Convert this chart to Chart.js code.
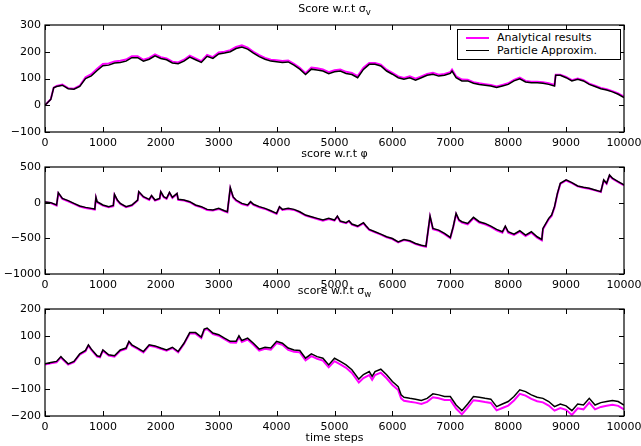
<!DOCTYPE html>
<html>
<head>
<meta charset="utf-8">
<script src="https://cdn.jsdelivr.net/npm/chart.js@4.4.0/dist/chart.umd.min.js"></script>
<style>
  body { margin: 0; background: #fff; }
  #wrap { position: relative; width: 641px; height: 446px; overflow: hidden; font-family: "DejaVu Sans", sans-serif; }
  #wrap canvas { position: absolute; left: 0; top: 0; }
  .ttl { position: absolute; left: 214px; width: 241px; text-align: center; font-size: 11px; line-height: 12px; color: #000; white-space: nowrap; }
  .ttl sub { font-size: 8.5px; }
  #legend { position: absolute; left: 457px; top: 29px; width: 164px; height: 31px; box-sizing: border-box; border: 1px solid #000; background: #fff; }
  .lg-line { position: absolute; left: 8px; width: 23px; height: 0; }
  .lg-text { position: absolute; left: 39px; font-size: 11px; line-height: 13px; white-space: nowrap; color: #000; }
</style>
</head>
<body>
<div id="wrap">
  <canvas id="c1" width="641" height="446"></canvas>
  <canvas id="c2" width="641" height="446"></canvas>
  <canvas id="c3" width="641" height="446"></canvas>
  <div class="ttl" style="top:3px">Score w.r.t &sigma;<sub>v</sub></div>
  <div class="ttl" style="top:148px">score w.r.t &phi;</div>
  <div class="ttl" style="top:285px">score w.r.t &sigma;<sub>w</sub></div>
  <div class="ttl" style="top:432px">time steps</div>
  <div id="legend">
    <div class="lg-line" style="top:7px;border-top:2px solid #ff00ff"></div>
    <div class="lg-text" style="top:1px">Analytical results</div>
    <div class="lg-line" style="top:20px;border-top:1.2px solid #000"></div>
    <div class="lg-text" style="top:14px">Particle Approxim.</div>
  </div>
</div>
<script>
(function () {
    'use strict';

    // ---- score w.r.t sigma_v ----
    var stepsV = [0,100,150,200,300,400,500,600,700,800,900,1000,1100,1200,1300,1400,1500,1600,1700,1800,1900,2000,2100,2200,2300,2400,2500,2600,2700,2800,2900,3000,3100,3200,3300,3400,3500,3600,3700,3800,3900,4000,4100,4200,4300,4400,4500,4600,4700,4800,4900,5000,5100,5200,5300,5400,5500,5600,5700,5800,5900,6000,6100,6200,6300,6400,6500,6600,6700,6800,6900,7000,7030,7100,7200,7300,7400,7500,7600,7700,7800,7900,8000,8100,8200,8300,8400,8500,8600,8700,8800,8820,8900,9000,9100,9200,9300,9400,9500,9600,9700,9800,9900,10000];
    var particleV = [0,22,65,70,75,62,60,70,100,110,130,148,150,158,160,165,178,178,165,172,185,175,170,158,155,165,180,170,160,183,175,192,195,200,212,218,210,195,182,172,165,163,160,162,150,135,115,135,132,128,118,125,128,119,115,103,134,153,153,147,128,116,103,97,103,94,103,112,116,109,112,119,128,103,91,91,82,78,75,72,66,72,78,91,99,87,84,84,82,78,72,112,112,103,91,97,91,78,70,62,57,50,41,29];
    var analyticV = [0,23,66,72,77,64,62,73,105,116,136,154,156,164,166,171,183,183,170,177,190,180,175,163,160,170,185,175,165,188,180,197,200,206,218,224,215,200,187,177,170,168,165,167,155,140,120,141,138,134,124,131,134,125,121,109,140,158,158,152,133,121,108,102,108,99,108,117,121,114,117,124,133,108,96,95,86,82,79,76,70,76,82,95,103,91,88,88,86,82,76,114,114,106,94,100,94,81,73,65,60,53,44,32];

    // ---- score w.r.t phi ----
    var stepsP = [0,100,200,230,300,400,500,600,700,800,860,880,900,1000,1100,1180,1200,1250,1300,1400,1500,1600,1620,1700,1800,1840,1900,1980,2000,2050,2100,2150,2200,2280,2300,2400,2500,2600,2700,2800,2900,3000,3100,3150,3200,3250,3300,3400,3500,3550,3600,3700,3800,3900,4000,4050,4100,4200,4300,4400,4500,4600,4700,4800,4900,5000,5050,5100,5200,5250,5300,5400,5500,5550,5600,5700,5800,5900,6000,6100,6200,6300,6400,6500,6580,6650,6700,6800,6900,7000,7050,7100,7150,7200,7300,7400,7500,7600,7700,7800,7900,7950,8000,8100,8200,8300,8400,8500,8580,8600,8700,8750,8800,8850,8900,9000,9100,9200,9300,9400,9500,9600,9650,9700,9750,9800,9900,10000];
    var particleP = [10,0,-33,140,60,28,-10,-47,-66,-80,-90,75,14,-33,-56,-40,117,37,-10,-56,-33,37,155,84,47,100,37,60,155,84,61,145,75,131,47,37,14,-33,-56,-94,-103,-80,-113,-127,211,80,37,-10,-33,14,-23,-56,-80,-113,-150,-56,-94,-80,-94,-127,-174,-197,-220,-244,-220,-244,-188,-258,-281,-253,-300,-328,-281,-330,-375,-408,-441,-478,-502,-549,-516,-535,-572,-596,-610,-188,-361,-385,-431,-488,-338,-150,-240,-267,-291,-206,-267,-291,-328,-375,-408,-328,-408,-441,-394,-455,-408,-478,-516,-361,-220,-174,-56,131,272,319,281,234,216,202,178,155,319,272,389,342,295,249];
    var analyticP = [5,-6,-40,130,52,20,-18,-55,-74,-88,-98,66,6,-41,-64,-48,108,29,-18,-64,-41,29,146,76,39,92,29,52,146,76,53,136,67,122,39,29,6,-41,-64,-102,-111,-88,-121,-135,200,72,29,-18,-41,6,-31,-64,-88,-121,-158,-64,-102,-88,-102,-135,-182,-205,-228,-252,-228,-252,-196,-266,-289,-261,-308,-336,-289,-338,-383,-416,-449,-486,-510,-557,-524,-543,-580,-604,-618,-198,-371,-395,-441,-498,-348,-162,-252,-279,-303,-218,-279,-303,-340,-387,-420,-340,-420,-453,-406,-467,-420,-490,-528,-373,-232,-186,-66,120,262,311,274,228,210,196,172,149,310,265,380,335,289,243];

    // ---- score w.r.t sigma_w ----
    var stepsW = [0,100,200,275,300,400,500,600,700,750,800,900,950,1000,1100,1200,1300,1400,1450,1500,1600,1700,1800,1900,2000,2100,2200,2300,2400,2500,2600,2700,2750,2800,2900,3000,3100,3200,3300,3350,3400,3500,3600,3700,3800,3900,4000,4100,4200,4300,4400,4500,4600,4700,4800,4900,5000,5100,5200,5300,5420,5500,5600,5650,5700,5800,5900,6000,6100,6150,6200,6300,6400,6500,6600,6700,6800,6900,7000,7100,7200,7300,7400,7500,7600,7700,7800,7900,8000,8100,8200,8300,8400,8500,8600,8700,8800,8900,9000,9100,9200,9300,9400,9500,9600,9700,9800,9900,10000];
    var particleW = [-5,0,4,22,16,-5,4,32,45,66,50,25,22,47,29,25,47,54,79,66,54,41,66,62,54,47,57,41,72,112,112,95,125,129,110,104,91,79,79,100,82,91,72,50,57,54,79,72,54,47,45,16,32,22,16,-9,16,4,-9,-27,-62,-45,-34,-52,-34,-25,-46,-71,-90,-121,-130,-134,-137,-142,-134,-117,-121,-127,-127,-159,-180,-155,-127,-130,-134,-137,-165,-155,-146,-127,-102,-109,-121,-130,-134,-146,-165,-155,-162,-180,-155,-159,-134,-159,-150,-146,-142,-146,-159];
    var analyticW = [-8,-3,1,19,13,-8,1,29,42,63,47,22,19,44,26,22,44,51,76,63,51,38,63,59,51,44,54,38,69,108,108,91,121,125,106,100,87,75,74,95,77,86,66,44,51,48,73,66,47,40,38,8,24,14,7,-18,5,-7,-20,-39,-75,-58,-47,-65,-47,-38,-59,-84,-103,-134,-143,-147,-150,-155,-147,-130,-134,-140,-140,-172,-194,-169,-141,-144,-148,-151,-179,-170,-161,-142,-117,-124,-136,-145,-149,-161,-180,-170,-177,-196,-171,-175,-150,-175,-166,-162,-158,-162,-175];

    var xTicks = [0,1000,2000,3000,4000,5000,6000,7000,8000,9000,10000];

    var W = 641, H = 446;
    var AREA_LEFT = 45, AREA_RIGHT = 624;

    // MATLAB-like box with inward ticks on all four sides
    var boxPlugin = {
        id: 'matlabBox',
        afterDraw: function (chart) {
            var ctx = chart.ctx, a = chart.chartArea;
            var sx = chart.scales.x, sy = chart.scales.y;
            ctx.save();
            ctx.strokeStyle = '#000';
            ctx.lineWidth = 1.2;
            ctx.strokeRect(a.left, a.top, a.right - a.left, a.bottom - a.top);
            ctx.beginPath();
            sx.ticks.forEach(function (t) {
                var px = Math.round(sx.getPixelForValue(t.value)) + 0.5;
                ctx.moveTo(px, a.bottom); ctx.lineTo(px, a.bottom - 5);
                ctx.moveTo(px, a.top); ctx.lineTo(px, a.top + 5);
            });
            sy.ticks.forEach(function (t) {
                var py = Math.round(sy.getPixelForValue(t.value)) + 0.5;
                ctx.moveTo(a.left, py); ctx.lineTo(a.left + 5, py);
                ctx.moveTo(a.right, py); ctx.lineTo(a.right - 5, py);
            });
            ctx.lineWidth = 1;
            ctx.stroke();
            ctx.restore();
        }
    };

    var toPoints = function (xs, ys) {
        var out = [];
        for (var i = 0; i < xs.length; i++) {
            out.push({x: xs[i], y: ys[i]});
        }
        return out;
    };

    var makePanel = function (id, steps, particle, analytic, yMin, yMax, yStep, top, bottom) {
        var ctx = document.getElementById(id);
        return new Chart(ctx, {
            type: 'line',
            data: {
                datasets: [{
                    label: 'Particle Approxim.',
                    data: toPoints(steps, particle),
                    borderColor: '#000000',
                    borderWidth: 1.5,
                    pointRadius: 0,
                    tension: 0
                }, {
                    label: 'Analytical results',
                    data: toPoints(steps, analytic),
                    borderColor: '#ff00ff',
                    borderWidth: 2,
                    pointRadius: 0,
                    tension: 0
                }]
            },
            options: {
                responsive: false,
                animation: false,
                events: [],
                layout: { padding: { top: top, right: W - AREA_RIGHT, left: 0, bottom: 0 } },
                plugins: { legend: { display: false }, tooltip: { enabled: false }, title: { display: false } },
                scales: {
                    x: {
                        type: 'linear',
                        min: 0, max: 10000,
                        afterBuildTicks: function (scale) {
                            scale.ticks = xTicks.map(function (v) { return {value: v}; });
                        },
                        afterFit: function (scale) {
                            scale.height = H - bottom;
                            scale.paddingLeft = 0; scale.paddingRight = 0;
                        },
                        grid: { display: false, drawTicks: false },
                        border: { display: false },
                        ticks: {
                            padding: 5,
                            color: '#000',
                            maxRotation: 0,
                            autoSkip: false,
                            font: { family: 'DejaVu Sans', size: 11 },
                            callback: function (v) { return String(v); }
                        }
                    },
                    y: {
                        min: yMin, max: yMax,
                        afterFit: function (scale) {
                            scale.width = AREA_LEFT;
                            scale.paddingTop = 0; scale.paddingBottom = 0;
                        },
                        grid: { display: false, drawTicks: false },
                        border: { display: false },
                        ticks: {
                            stepSize: yStep,
                            padding: 4,
                            color: '#000',
                            font: { family: 'DejaVu Sans', size: 11 },
                            callback: function (v) { return String(v).replace('-', '\u2212'); }
                        }
                    }
                }
            },
            plugins: [boxPlugin]
        });
    };

    makePanel('c1', stepsV, particleV, analyticV, -100, 300, 100, 25, 132);
    makePanel('c2', stepsP, particleP, analyticP, -1000, 500, 500, 167, 274);
    makePanel('c3', stepsW, particleW, analyticW, -200, 200, 100, 309, 416);
})();
</script>
</body>
</html>
